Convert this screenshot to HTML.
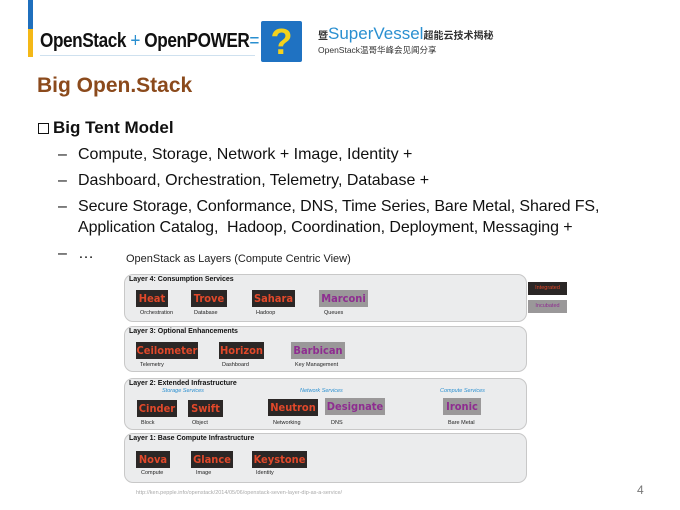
<!DOCTYPE html>
<html><head><meta charset="utf-8"><style>
body{margin:0;width:680px;height:510px;background:#fff;position:relative;overflow:hidden;font-family:"Liberation Sans",sans-serif}
.a{position:absolute;white-space:nowrap}
.lay{position:absolute;left:124px;width:401px;background:#ebeced;border:1px solid #c8c8c8;border-radius:9px}
.lt{position:absolute;left:4px;top:1px;font-size:7px;font-weight:bold;color:#111}
.b{position:absolute;font-weight:bold;font-size:11px;text-align:center;line-height:17px;height:17px;font-family:"DejaVu Sans Condensed","Liberation Sans",sans-serif}
.i{background:#2b2726;color:#e0482a}
.u{background:#9a9899;color:#8e2d90}
.s{position:absolute;font-size:5.5px;color:#222}
.c{position:absolute;font-size:5.5px;color:#2a8fd0;font-style:italic}
.bl{font-size:16px;color:#111}
</style></head><body>
<div class="a" style="left:28px;top:0;width:5px;height:29px;background:#1f6fbd"></div>
<div class="a" style="left:28px;top:29px;width:5px;height:28px;background:#f4b817"></div>
<div class="a" style="left:40px;top:30px;font-size:20px;font-weight:bold;color:#111;transform:scaleX(0.86);transform-origin:left top;letter-spacing:-0.5px">OpenStack <span style="color:#2a8fd0;font-weight:normal">+</span> OpenPOWER<span style="color:#2a8fd0;font-weight:normal">=</span></div>
<div class="a" style="left:40px;top:55px;width:215px;height:1px;background:#cfe1ef"></div>
<div class="a" style="left:261px;top:21px;width:41px;height:41px;background:#1f72c2;border-radius:2px;color:#f5d21c;font-size:36px;font-weight:bold;text-align:center;line-height:41px">?</div>
<div class="a" style="left:318px;top:24px;font-size:10px;color:#333;font-family:'Liberation Sans','Noto Sans CJK SC',sans-serif;font-weight:bold">暨<span style="font-size:17px;color:#2a8fd0;font-weight:normal">SuperVessel</span>超能云技术揭秘</div>
<div class="a" style="left:318px;top:44px;font-size:8.5px;color:#333;font-family:'Liberation Sans','Noto Sans CJK SC',sans-serif">OpenStack温哥华峰会见闻分享</div>
<div class="a" style="left:37px;top:74px;font-size:21px;font-weight:bold;color:#8b4a1c">Big Open.Stack</div>
<div class="a" style="left:38px;top:118px;font-size:17px;font-weight:bold;color:#111"><span style="display:inline-block;width:11px;height:11px;border:1.5px solid #111;vertical-align:-1px;margin-right:4px;box-sizing:border-box"></span>Big Tent Model</div>
<div class="a bl" style="left:58px;top:146px">–</div><div class="a bl" style="left:78px;top:146px">Compute, Storage, Network + Image, Identity +</div>
<div class="a bl" style="left:58px;top:172px">–</div><div class="a bl" style="left:78px;top:172px">Dashboard, Orchestration, Telemetry, Database +</div>
<div class="a bl" style="left:58px;top:198px">–</div><div class="a bl" style="left:78px;top:198px;letter-spacing:-0.1px">Secure Storage, Conformance, DNS, Time Series, Bare Metal, Shared FS,</div>
<div class="a bl" style="left:78px;top:219px;letter-spacing:-0.1px">Application Catalog,&nbsp; Hadoop, Coordination, Deployment, Messaging +</div>
<div class="a bl" style="left:58px;top:245px">–</div><div class="a bl" style="left:78px;top:245px">…</div>
<div class="a" style="left:126px;top:253px;font-size:11px;color:#222">OpenStack as Layers (Compute Centric View)</div>

<div class="lay" style="top:274px;height:46px"><div class="lt">Layer 4: Consumption Services</div></div>
<div class="lay" style="top:326px;height:44px"><div class="lt">Layer 3: Optional Enhancements</div></div>
<div class="lay" style="top:378px;height:50px"><div class="lt">Layer 2: Extended Infrastructure</div></div>
<div class="lay" style="top:433px;height:48px"><div class="lt">Layer 1: Base Compute Infrastructure</div></div>

<div class="b i" style="left:136px;top:290px;width:32px">Heat</div>
<div class="b i" style="left:191px;top:290px;width:36px">Trove</div>
<div class="b i" style="left:252px;top:290px;width:43px">Sahara</div>
<div class="b u" style="left:319px;top:290px;width:49px">Marconi</div>
<div class="s" style="left:140px;top:310px">Orchestration</div>
<div class="s" style="left:194px;top:310px">Database</div>
<div class="s" style="left:256px;top:310px">Hadoop</div>
<div class="s" style="left:324px;top:310px">Queues</div>

<div class="b i" style="left:136px;top:342px;width:62px">Ceilometer</div>
<div class="b i" style="left:219px;top:342px;width:45px">Horizon</div>
<div class="b u" style="left:291px;top:342px;width:54px">Barbican</div>
<div class="s" style="left:140px;top:362px">Telemetry</div>
<div class="s" style="left:222px;top:362px">Dashboard</div>
<div class="s" style="left:295px;top:362px">Key Management</div>

<div class="c" style="left:162px;top:388px">Storage Services</div>
<div class="c" style="left:300px;top:388px">Network Services</div>
<div class="c" style="left:440px;top:388px">Compute Services</div>
<div class="b i" style="left:137px;top:400px;width:40px">Cinder</div>
<div class="b i" style="left:188px;top:400px;width:35px">Swift</div>
<div class="b i" style="left:268px;top:399px;width:50px">Neutron</div>
<div class="b u" style="left:325px;top:398px;width:60px">Designate</div>
<div class="b u" style="left:443px;top:398px;width:38px">Ironic</div>
<div class="s" style="left:141px;top:420px">Block</div>
<div class="s" style="left:192px;top:420px">Object</div>
<div class="s" style="left:273px;top:420px">Networking</div>
<div class="s" style="left:331px;top:420px">DNS</div>
<div class="s" style="left:448px;top:420px">Bare Metal</div>

<div class="b i" style="left:136px;top:451px;width:34px">Nova</div>
<div class="b i" style="left:191px;top:451px;width:42px">Glance</div>
<div class="b i" style="left:252px;top:451px;width:55px">Keystone</div>
<div class="s" style="left:141px;top:470px">Compute</div>
<div class="s" style="left:196px;top:470px">Image</div>
<div class="s" style="left:256px;top:470px">Identity</div>

<div class="a" style="left:528px;top:282px;width:39px;height:13px;background:#2b2726;color:#e0482a;font-size:5.5px;line-height:13px;text-align:center">Integrated</div>
<div class="a" style="left:528px;top:300px;width:39px;height:13px;background:#9a9899;color:#8e2d90;font-size:5.5px;line-height:13px;text-align:center">Incubated</div>
<div class="a" style="left:136px;top:490px;font-size:5.5px;color:#aaa">http://ken.pepple.info/openstack/2014/05/06/openstack-seven-layer-dip-as-a-service/</div>
<div class="a" style="left:637px;top:483px;font-size:12px;color:#777">4</div>
</body></html>
